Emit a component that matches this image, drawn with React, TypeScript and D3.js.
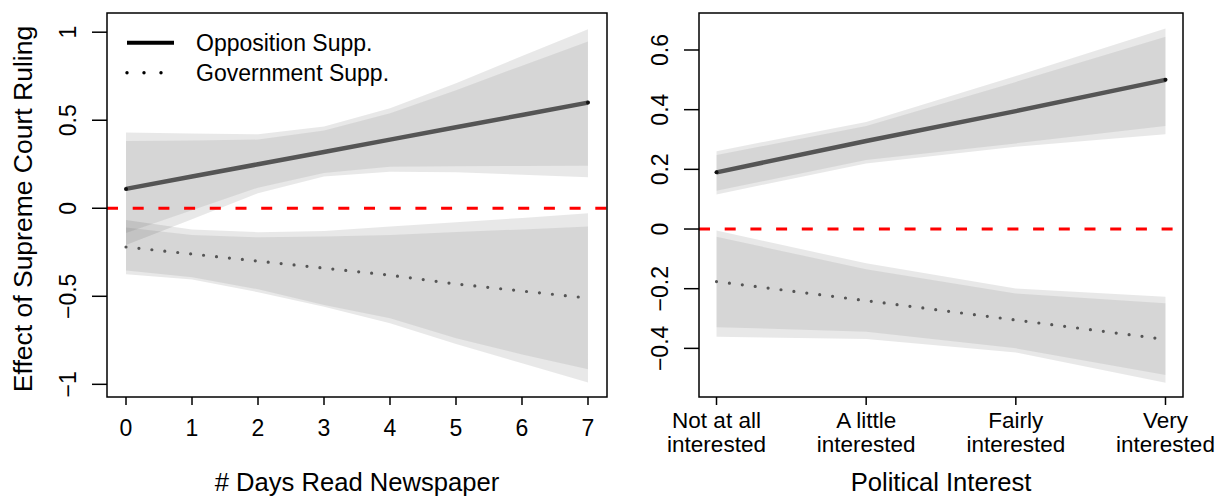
import React from 'react';
import * as d3 from 'd3';

// left panel: days reading newspaper
const days = [0, 1, 2, 3, 4, 5, 6, 7];
const oppDays = [0.11, 0.18, 0.25, 0.32, 0.39, 0.46, 0.53, 0.6];
const oppDaysHi95 = [0.43, 0.425, 0.42, 0.464, 0.568, 0.71, 0.865, 1.017];
const oppDaysHi90 = [0.382, 0.385, 0.39, 0.441, 0.54, 0.67, 0.81, 0.947];
const oppDaysLo90 = [-0.14, -0.012, 0.117, 0.2, 0.236, 0.238, 0.24, 0.242];
const oppDaysLo95 = [-0.209, -0.062, 0.085, 0.18, 0.208, 0.205, 0.19, 0.176];
const govDays = [-0.22, -0.26, -0.3, -0.34, -0.38, -0.43, -0.47, -0.51];
const govDaysHi95 = [-0.066, -0.12, -0.136, -0.129, -0.104, -0.08, -0.055, -0.028];
const govDaysHi90 = [-0.11, -0.152, -0.165, -0.161, -0.152, -0.135, -0.12, -0.104];
const govDaysLo90 = [-0.354, -0.392, -0.46, -0.55, -0.625, -0.739, -0.83, -0.915];
const govDaysLo95 = [-0.375, -0.404, -0.477, -0.559, -0.653, -0.771, -0.88, -0.99];
const daysYTicks = [-1, -0.5, 0, 0.5, 1];

// right panel: political interest
const interest = [0, 1, 2, 3];
const interestLabels = [
  ['Not at all', 'interested'],
  ['A little', 'interested'],
  ['Fairly', 'interested'],
  ['Very', 'interested'],
];
const oppInt = [0.19, 0.295, 0.395, 0.5];
const oppIntHi95 = [0.261, 0.359, 0.513, 0.672];
const oppIntHi90 = [0.248, 0.345, 0.493, 0.644];
const oppIntLo90 = [0.128, 0.231, 0.287, 0.345];
const oppIntLo95 = [0.116, 0.22, 0.276, 0.318];
const govInt = [-0.176, -0.24, -0.305, -0.37];
const govIntHi95 = [-0.005, -0.115, -0.199, -0.227];
const govIntHi90 = [-0.026, -0.135, -0.216, -0.249];
const govIntLo90 = [-0.329, -0.344, -0.4, -0.489];
const govIntLo95 = [-0.361, -0.369, -0.414, -0.515];
const interestYTicks = [-0.4, -0.2, 0, 0.2, 0.4, 0.6];

const FONT = '"Liberation Sans", Arial, Helvetica, sans-serif';
const LINE = '#555555';
const fmt = d3.format('~g');

type Band = { lo: number[]; hi: number[]; op: number };

function Panel({ left, right, xDomain, yDomain, xs, opp, gov, bands, yTicks, xLabel, xTickText, legend }: any) {
  const top = 13, bottom = 397;
  const x = d3.scaleLinear().domain(xDomain).range([left, right]);
  const y = d3.scaleLinear().domain(yDomain).range([bottom, top]);

  const area = (b: Band) =>
    d3.area<number>()
      .x((d) => x(d))
      .y0((d, i) => y(b.lo[i]))
      .y1((d, i) => y(b.hi[i]))(xs) as string;
  const line = (vals: number[]) =>
    d3.line<number>().x((d) => x(d)).y((d, i) => y(vals[i]))(xs) as string;

  const last = xs.length - 1;

  return (
    <g>
      {bands.map((b: Band, i: number) => (
        <path key={i} d={area(b)} fill="#000" fillOpacity={b.op} stroke="none" />
      ))}
      <line x1={left} x2={right} y1={y(0)} y2={y(0)} stroke="#ff0000" strokeWidth={3} strokeDasharray="11 14.7" />
      <path d={line(opp)} fill="none" stroke={LINE} strokeWidth={4.5} />
      <circle cx={x(xs[0])} cy={y(opp[0])} r={2} fill="#111" />
      <circle cx={x(xs[last])} cy={y(opp[last])} r={2} fill="#111" />
      <path d={line(gov)} fill="none" stroke={LINE} strokeWidth={3.2} strokeLinecap="round" strokeDasharray="0 13" />
      <rect x={left} y={top} width={right - left} height={bottom - top} fill="none" stroke="#000" strokeWidth={1.5} />

      {/* y axis */}
      {yTicks.map((t: number) => (
        <g key={t}>
          <line x1={left - 15} x2={left} y1={y(t)} y2={y(t)} stroke="#000" strokeWidth={1.5} />
          <text transform={`translate(${left - 39},${y(t)}) rotate(-90)`} textAnchor="middle" dy="0.36em" fontSize={23} fontFamily={FONT}>
            {fmt(t)}
          </text>
        </g>
      ))}

      {/* x axis */}
      {xs.map((v: number, i: number) => (
        <g key={v}>
          <line x1={x(v)} x2={x(v)} y1={bottom} y2={bottom + 8} stroke="#000" strokeWidth={1.5} />
          {xTickText[i].map((s: string, j: number) => (
            <text key={j} x={x(v)} y={xTickText[i].length > 1 ? 428 + j * 24 : 436} textAnchor="middle" fontSize={xTickText[i].length > 1 ? 22.5 : 23} fontFamily={FONT}>
              {s}
            </text>
          ))}
        </g>
      ))}
      <text x={(left + right) / 2} y={491} textAnchor="middle" fontSize={25.6} fontFamily={FONT}>
        {xLabel}
      </text>

      {legend && (
        <g fontFamily={FONT} fontSize={23}>
          <line x1={127} x2={174} y1={42.7} y2={42.7} stroke="#000" strokeWidth={4} />
          <text x={196} y={51}>Opposition Supp.</text>
          {[127, 144, 161].map((cx) => (
            <circle key={cx} cx={cx} cy={72.7} r={1.7} fill="#000" />
          ))}
          <text x={196} y={81}>Government Supp.</text>
        </g>
      )}
    </g>
  );
}

export default function App() {
  const daysBands: Band[] = [
    { lo: oppDaysLo95, hi: oppDaysHi95, op: 0.09 },
    { lo: oppDaysLo90, hi: oppDaysHi90, op: 0.075 },
    { lo: govDaysLo95, hi: govDaysHi95, op: 0.09 },
    { lo: govDaysLo90, hi: govDaysHi90, op: 0.075 },
  ];
  const intBands: Band[] = [
    { lo: oppIntLo95, hi: oppIntHi95, op: 0.09 },
    { lo: oppIntLo90, hi: oppIntHi90, op: 0.075 },
    { lo: govIntLo95, hi: govIntHi95, op: 0.09 },
    { lo: govIntLo90, hi: govIntHi90, op: 0.075 },
  ];

  return (
    <svg width={1217} height={496} style={{ position: 'absolute', left: 0, top: 0, background: '#fff' }}>
      <rect width={1217} height={496} fill="#fff" />
      <Panel
        left={107}
        right={607}
        xDomain={[-0.288, 7.288]}
        yDomain={[-1.072, 1.109]}
        xs={days}
        opp={oppDays}
        gov={govDays}
        bands={daysBands}
        yTicks={daysYTicks}
        xLabel="# Days Read Newspaper"
        xTickText={days.map((d) => [String(d)])}
        legend
      />
      <Panel
        left={699}
        right={1183}
        xDomain={[-0.117, 3.117]}
        yDomain={[-0.563, 0.724]}
        xs={interest}
        opp={oppInt}
        gov={govInt}
        bands={intBands}
        yTicks={interestYTicks}
        xLabel="Political Interest"
        xTickText={interestLabels}
      />
      <text
        transform="translate(22,209) rotate(-90)"
        textAnchor="middle"
        dy="0.36em"
        fontSize={26.5}
        fontFamily={FONT}
      >
        Effect of Supreme Court Ruling
      </text>
    </svg>
  );
}
